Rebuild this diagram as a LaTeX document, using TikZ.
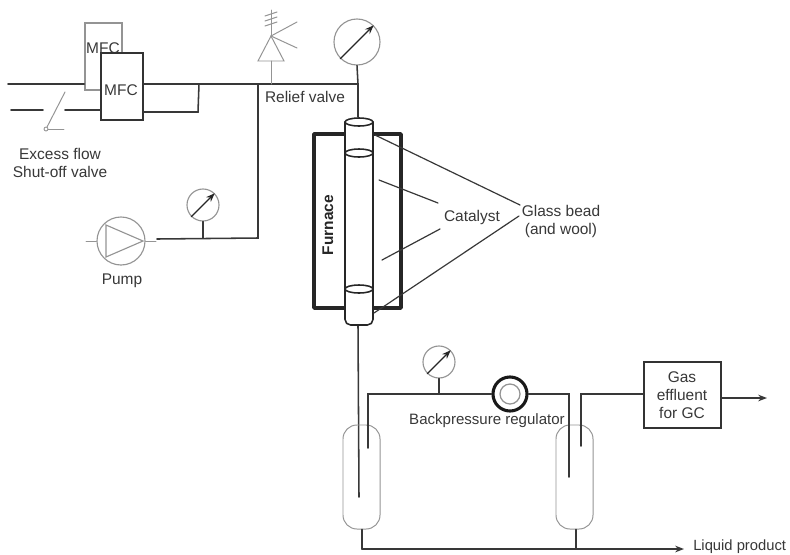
\documentclass[tikz,border=0pt]{standalone}
\usepackage{fontspec}
\setmainfont{Liberation Sans}
\usetikzlibrary{arrows.meta}
\colorlet{pipe}{black!78}
\colorlet{faint}{black!42}
\tikzset{
  pipeline/.style={draw=pipe,line width=1.1pt},
  thinline/.style={draw=faint,line width=0.7pt},
  leader/.style={draw=pipe,line width=0.85pt},
  gauge/.style={circle,draw=faint,line width=0.8pt,fill=white,inner sep=0pt},
  vessel/.style={draw=faint,line width=0.7pt,rounded corners=0.35cm,minimum width=0.925cm,minimum height=2.6cm,inner sep=0pt},
  tube/.style={draw=black!85,line width=1.1pt,fill=white},
  box/.style={draw=black!80,line width=1pt,fill=white,inner sep=0pt},
  tag/.style={text=black!78,inner sep=0pt,align=center}
}
\begin{document}
\begin{tikzpicture}[x=0.025cm,y=-0.025cm,>={Stealth[length=2.2mm]},font=\fontsize{11}{12.8}\selectfont,line cap=round]
\useasboundingbox (0,0) rectangle (790,554);
\fill[white] (0,0) rectangle (790,554);
% free ends and junctions
\coordinate (gasin) at (8,84);
\coordinate (shutin) at (11,110);
\coordinate (shutgapl) at (43,110);
\coordinate (shutgapr) at (65,110);
\coordinate (merge) at (199,84);
\coordinate (tee) at (258,84);
\coordinate (relieftee) at (271,84);
\coordinate (corner) at (358,84);
\coordinate (pumptee) at (203,238);
\coordinate (pumpcorner) at (258,238);
\coordinate (pumpout) at (157,239);
\coordinate (tubetop) at (358,117);
\coordinate (tubeend) at (358,325);
\coordinate (dipleft) at (359,497);
\coordinate (riseleft) at (368,448);
\coordinate (backtee) at (439,394);
\coordinate (cornerleft) at (368,394);
\coordinate (cornermid) at (569,394);
\coordinate (dipright) at (569,477);
\coordinate (riseright) at (581,446);
\coordinate (cornerright) at (581,394);
\coordinate (liquidleft) at (362,549);
\coordinate (liquidmid) at (576,549);
\coordinate (liquidend) at (684,549);
\coordinate (gasend) at (767,398);
\coordinate (reliefapex) at (271,36);
% mass flow controllers
\node[box,draw=faint,minimum width=0.925cm,minimum height=1.675cm] (mfcback) at (103.5,56.5) {};
\node[tag] (mfcbacktext) at (103,48) {MFC};
\node[box,minimum width=1.05cm,minimum height=1.675cm] (mfcfront) at (122,86.5) {};
\node[tag] (mfcfronttext) at (121,90) {MFC};
\draw[pipeline] (gasin) -- (gasin -| mfcback.west);
\draw[pipeline] (shutin) -- (shutgapl);
\draw[pipeline] (shutgapr) -- (shutgapr -| mfcfront.west);
\draw[pipeline] (merge -| mfcfront.east) -- (corner) -- (tubetop);
\draw[pipeline] (mfcfront.east |- 0,112) -- (198,112) -- (merge);
\draw[pipeline] (tee) -- (pumpcorner) -- (pumpout);
% shut-off valve
\node[circle,draw=faint,line width=0.6pt,inner sep=0pt,minimum size=0.1cm] (hinge) at (46,129) {};
\draw[thinline] (hinge) -- (65,92);
\draw[thinline] (hinge) -- (64,129);
\node[tag] (excess) at (60,163) {Excess flow\\Shut-off valve};
% relief valve
\draw[thinline] (relieftee) -- (271,61);
\draw[thinline] (258,61) -- (284,61) -- (reliefapex) -- cycle;
\draw[thinline] (reliefapex) -- (271,10);
\draw[thinline] (reliefapex) -- (297,22);
\draw[thinline] (reliefapex) -- (297,48);
\foreach \y in {14,19,24} \draw[thinline] (265,\y+2) -- (277,\y-2);
\node[tag] (relief) at (305,97) {Relief valve};
% pump
\node[circle,draw=faint,line width=0.8pt,inner sep=0pt,minimum size=1.2cm] (pump) at (121,241) {};
\draw[thinline,line width=0.8pt] (106,225) -- (106,257) -- (143,241) -- cycle;
\draw[thinline] (86,241) -- (pump.west);
\draw[thinline] (pump.east) -- (156,241);
\node[tag] (pumptext) at (122,281) {Pump};
% gauges
\node[gauge,minimum size=1.15cm] (gaugemain) at (357,42) {};
\node[gauge,minimum size=0.8cm] (gaugepump) at (203,205) {};
\node[gauge,minimum size=0.8cm] (gaugeback) at (439,362) {};
\foreach \g in {gaugemain,gaugepump,gaugeback} \draw[->,line width=0.9pt,black!85] (\g.225) -- (\g.45);
\draw[pipeline] (gaugemain.south) -- (corner);
\draw[pipeline] (gaugepump.south) -- (pumptee);
\draw[pipeline] (gaugeback.south) -- (backtee);
% furnace and reactor
\draw[black!85,line width=2.7pt,line join=round] (314,134) rectangle (401,308);
\node[tag,rotate=90,text=black!85,font=\fontsize{11}{12.8}\selectfont\bfseries] (furnace) at (328,225) {Furnace};
\draw[pipeline] (tubeend) -- (dipleft);
\draw[tube,rounded corners=0.14cm] (345,122) -- (345,325) -- (373,325) -- (373,122);
\foreach \y in {122,153,289} \draw[tube] (359,\y) ellipse (0.35cm and 0.1cm);
% leaders
\node[tag] (catalyst) at (472,217) {Catalyst};
\node[tag] (glass) at (561,221) {Glass bead\\(and wool)};
\draw[leader] (375,135) -- (520,205);
\draw[leader] (374,313) -- (519,216);
\draw[leader] (379,180) -- (438,203);
\draw[leader] (382,260) -- (440,229);
% separators
\node[vessel] (vesselleft) at (361.5,477) {};
\node[vessel] (vesselright) at (574.5,477) {};
\node[circle,draw=black!90,line width=2.2pt,fill=white,inner sep=0pt,minimum size=0.85cm] (regulator) at (510,394) {};
\node[circle,draw=faint,line width=0.9pt,inner sep=0pt,minimum size=0.5cm] (regulatorcore) at (510,394) {};
\draw[pipeline] (riseleft) -- (cornerleft) -- (regulator.west);
\draw[pipeline] (regulator.east) -- (cornermid) -- (dipright);
\node[tag,font=\fontsize{10.7}{12}\selectfont] (backtext) at (487,421) {Backpressure regulator};
% outlets
\node[box,minimum width=1.925cm,minimum height=1.65cm] (gasbox) at (682.5,395) {};
\node[tag] (gastext) at (682,395) {Gas\\effluent\\for GC};
\draw[pipeline] (riseright) -- (cornerright) -- (cornerright -| gasbox.west);
\draw[pipeline,->] (gasbox.east |- gasend) -- (gasend);
\draw[pipeline] (vesselleft.south -| liquidleft) -- (liquidleft);
\draw[pipeline] (vesselright.south -| liquidmid) -- (liquidmid);
\draw[pipeline,->] (liquidleft) -- (liquidend);
\node[tag,anchor=base west,font=\fontsize{10.5}{12}\selectfont] (liquid) at (693,550.5) {Liquid product};
\end{tikzpicture}
\end{document}
